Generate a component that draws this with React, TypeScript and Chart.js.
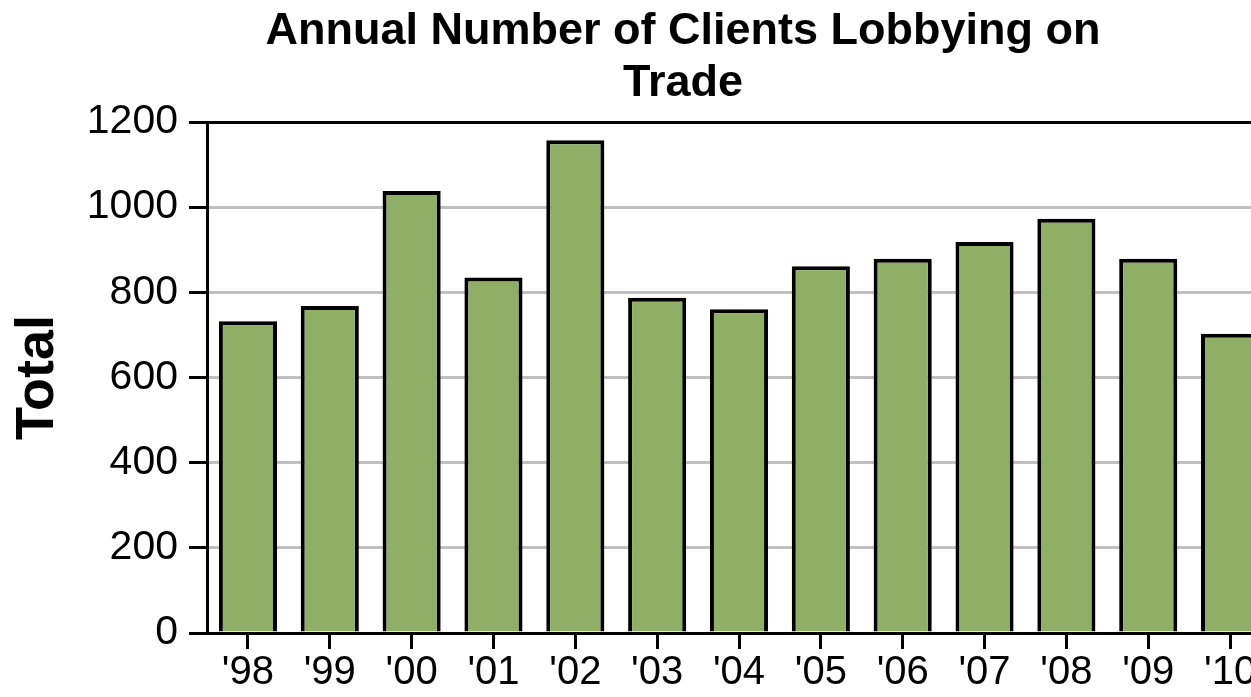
import React, { useEffect, useRef } from "react";
import { Chart, registerables } from "chart.js";

Chart.register(...registerables);

const years = ["'98", "'99", "'00", "'01", "'02", "'03", "'04", "'05", "'06", "'07", "'08", "'09", "'10"];
const totals = [732, 768, 1038, 835, 1157, 787, 760, 861, 879, 918, 973, 879, 703];
const titleLines = ["Annual Number of Clients Lobbying on", "Trade"];
const yAxisTitle = "Total";
const yMin = 0;
const yMax = 1200;
const yStep = 200;

const FONT = "'Liberation Sans', Arial, sans-serif";

// Draws the two-line chart title, centred where the source image centres it.
const titlePlugin = {
  id: "offsetTitle",
  afterDraw(chart: any) {
    const ctx = chart.ctx;
    ctx.save();
    ctx.fillStyle = "#000000";
    ctx.font = `bold 45px ${FONT}`;
    ctx.textAlign = "center";
    ctx.textBaseline = "alphabetic";
    const cx = 683;
    const baselines = [44, 96];
    titleLines.forEach((line, i) => ctx.fillText(line, cx, baselines[i]));
    ctx.restore();
  },
};

export default function App() {
  const ref = useRef<HTMLCanvasElement>(null);

  useEffect(() => {
    if (!ref.current) return;
    const chart = new Chart(ref.current, {
      type: "bar",
      data: {
        labels: years,
        datasets: [
          {
            data: totals,
            backgroundColor: "#8faf66",
            borderColor: "#000000",
            borderWidth: 4,
            barPercentage: 0.71,
            categoryPercentage: 1,
          },
        ],
      },
      plugins: [titlePlugin],
      options: {
        responsive: false,
        animation: false,
        devicePixelRatio: 1,
        layout: { padding: { left: 6, right: 95, top: 122, bottom: 0 } },
        plugins: {
          legend: { display: false },
          tooltip: { enabled: false },
          title: { display: false },
        },
        scales: {
          x: {
            offset: true,
            grid: {
              display: true,
              offset: false,
              drawOnChartArea: false,
              drawTicks: true,
              tickLength: 16,
              tickColor: "#000000",
              tickWidth: 3,
            },
            border: { display: true, color: "#000000", width: 3 },
            ticks: {
              color: "#000000",
              font: { family: FONT, size: 40, lineHeight: 1.1 },
              padding: 2,
              maxRotation: 0,
              autoSkip: false,
            },
          },
          y: {
            min: yMin,
            max: yMax,
            ticks: {
              stepSize: yStep,
              color: "#000000",
              font: { family: FONT, size: 41 },
              padding: 11,
              callback: (v: any) => String(v),
            },
            grid: {
              color: (ctx: any) => (ctx.tick && ctx.tick.value === yMax ? "#000000" : "#c0c0c0"),
              lineWidth: 3,
              tickLength: 18,
              tickColor: "#000000",
              tickWidth: 3,
            },
            border: { display: true, color: "#000000", width: 3 },
            title: {
              display: true,
              text: yAxisTitle,
              color: "#000000",
              font: { family: FONT, size: 54, weight: "bold" },
              padding: { top: 0, bottom: 5 },
            },
          },
        },
      },
    });
    return () => chart.destroy();
  }, []);

  return (
    <div
      style={{
        position: "fixed",
        left: 0,
        top: 0,
        width: 1251,
        height: 697,
        overflow: "hidden",
        background: "#ffffff",
      }}
    >
      <canvas ref={ref} width={1366} height={697} style={{ display: "block" }} />
    </div>
  );
}
